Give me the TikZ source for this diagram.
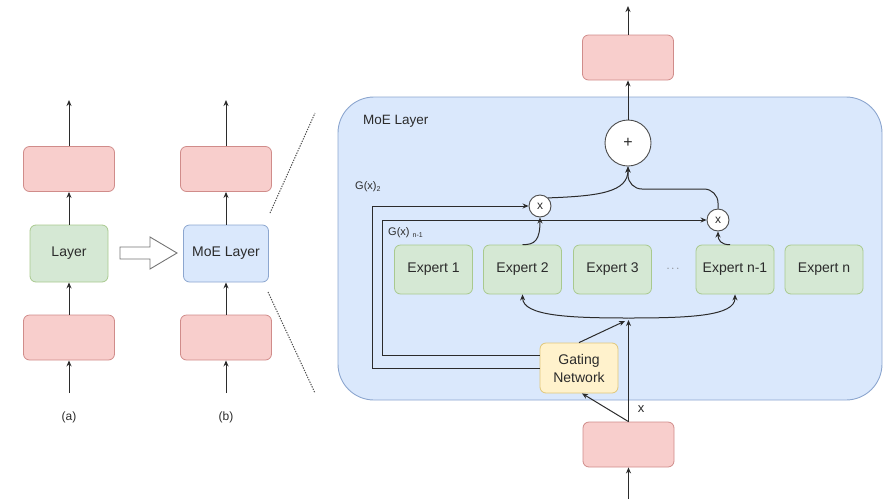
\documentclass[tikz,border=0pt]{standalone}
\usepackage{fontspec}
\setmainfont{Liberation Sans}
\usetikzlibrary{arrows.meta,calc}
\definecolor{redfill}{HTML}{F8CECC}
\definecolor{redline}{HTML}{D08C8A}
\definecolor{greenfill}{HTML}{D5E8D4}
\definecolor{greenline}{HTML}{A9C98F}
\definecolor{bluefill}{HTML}{DAE8FC}
\definecolor{blueline}{HTML}{8CA6CF}
\definecolor{yellowfill}{HTML}{FFF2CC}
\definecolor{yellowline}{HTML}{E0C77A}
\definecolor{ink}{HTML}{2B2B2B}
\tikzset{
  box/.style={draw, rounded corners=6pt, inner sep=0pt, line width=0.8pt, font=\fontsize{14}{17}\selectfont, text=ink, align=center},
  redbox/.style={box, fill=redfill, draw=redline, minimum width=91pt, minimum height=45pt},
  layerbox/.style={box, fill=greenfill, draw=greenline, minimum width=78pt, minimum height=57pt},
  moebox/.style={box, fill=bluefill, draw=blueline, minimum width=85pt, minimum height=57pt},
  expbox/.style={box, fill=greenfill, draw=greenline, minimum width=78pt, minimum height=49pt},
  gatebox/.style={box, fill=yellowfill, draw=yellowline, minimum width=78pt, minimum height=50pt, font=\fontsize{14}{18}\selectfont},
  opcirc/.style={circle, draw=ink!85, fill=white, line width=0.9pt, inner sep=0pt, text=ink},
  arr/.style={draw=ink, line width=1pt, -{Stealth[length=6pt,width=5pt]}},
  lbl/.style={text=ink, inner sep=0pt},
  dotline/.style={draw=ink!85, line width=1pt, dash pattern=on 1.3pt off 1.3pt},
}
\begin{document}
\begin{tikzpicture}[x=1pt,y=-1pt]
\useasboundingbox (0,0) rectangle (884,499);
% column (a)
\node[redbox] (a1) at (69,169) {};
\node[layerbox] (a2) at (69,253.5) {Layer};
\node[redbox] (a3) at (69,337.5) {};
\coordinate (a0) at (69,393);
\coordinate (aT) at (69,100);
\draw[arr] (a0) -- (a3.south);
\draw[arr] (a3.north) -- (a2.south);
\draw[arr] (a2.north) -- (a1.south);
\draw[arr] (a1.north) -- (aT);
\node[lbl, font=\fontsize{12}{14}\selectfont] (la) at (69,417) {(a)};
% column (b)
\node[redbox] (b1) at (226,169) {};
\node[moebox] (b2) at (226,253.5) {MoE Layer};
\node[redbox] (b3) at (226,337.5) {};
\coordinate (b0) at (226,393);
\coordinate (bT) at (226,100);
\draw[arr] (b0) -- (b3.south);
\draw[arr] (b3.north) -- (b2.south);
\draw[arr] (b2.north) -- (b1.south);
\draw[arr] (b1.north) -- (bT);
\node[lbl, font=\fontsize{12}{14}\selectfont] (lb) at (226,417) {(b)};
% hollow arrow
\draw[draw=ink!65, fill=white, line width=0.9pt, line join=miter]
  (120,247) -- (150,247) -- (150,237) -- (177,253) -- (150,269) -- (150,259) -- (120,259) -- cycle;
% dotted zoom lines
\draw[dotline] (270,213) -- (315,113);
\draw[dotline] (268,292) -- (315,393);
% big MoE box
\node[draw=blueline, fill=bluefill, line width=0.9pt, rounded corners=36pt, minimum width=544pt, minimum height=303pt, inner sep=0pt] (moe) at (610,248.5) {};
\node[lbl, anchor=west, font=\fontsize{13.5}{16}\selectfont] (moelbl) at (363,121) {MoE Layer};
% output
\node[opcirc, minimum size=46pt, font=\fontsize{16}{16}\selectfont] (plus) at (628,143) {+};
\node[redbox] (o1) at (628,57.5) {};
\coordinate (oT) at (628,6);
\draw[arr] (plus.north) -- (o1.south);
\draw[arr] (o1.north) -- (oT);
% multipliers
\node[opcirc, minimum size=22pt, font=\fontsize{12}{12}\selectfont] (x1) at (540,206) {x};
\node[opcirc, minimum size=22pt, font=\fontsize{12}{12}\selectfont] (x2) at (718,220) {x};
% experts
\node[expbox] (e1) at (433.5,269.5) {Expert 1};
\node[expbox] (e2) at (522.5,269.5) {Expert 2};
\node[expbox] (e3) at (612.5,269.5) {Expert 3};
\node[lbl, text=ink!70, font=\fontsize{11}{11}\selectfont] (dots) at (673,269) {$\cdots$};
\node[expbox] (en1) at (735,269.5) {Expert n-1};
\node[expbox] (en) at (824,269.5) {Expert n};
% gating
\node[gatebox] (g) at (579,368) {Gating\\Network};
% input
\node[redbox] (in) at (628.5,444.5) {};
\coordinate (iB) at (628.5,499);
\draw[arr] (iB) -- (in.south);
\coordinate (c) at (628.5,318);
\coordinate (cx) at (628.5,320);
\coordinate (cg) at (625,321);
\draw[arr] (in.north) -- (cx);
\draw[arr] (in.north) -- ([xshift=3pt]g.south);
\node[lbl, font=\fontsize{13}{13}\selectfont] (xl) at (641,409) {x};
\draw[arr] (g.north) -- (cg);
% bracket to experts
\draw[arr] (c) .. controls (570,318) and (523,316) .. (e2.south);
\draw[arr] (c) .. controls (690,318) and (735,316) .. (en1.south);
% expert outputs to multipliers
\draw[arr] (e2.north) .. controls (535,245) and (540,240) .. (x1.south);
\draw[arr] ([xshift=-5pt]en1.north) .. controls (721,245) and (718,240) .. (x2.south);
% to plus
\draw[arr] (x1.north east) .. controls (600,196) and (628,192) .. (plus.south);
\draw[arr, rounded corners=14pt] (x2.north) |- (628,189) -- (plus.south);
% gating weights
\coordinate (gi) at ($(g.west)+(0,-13)$);
\draw[arr] (g.west) -| (372,206) -- (x1.west);
\draw[arr] (gi) -| (382,220) -- (x2.west);
\node[lbl, anchor=west, font=\fontsize{11}{13}\selectfont] (g2) at (355,187) {G(x)\raisebox{-2pt}{\fontsize{7}{8}\selectfont 2}};
\node[lbl, anchor=west, font=\fontsize{11}{13}\selectfont] (gn) at (388,233) {G(x) \raisebox{-2pt}{\fontsize{7}{8}\selectfont n-1}};
\end{tikzpicture}
\end{document}
